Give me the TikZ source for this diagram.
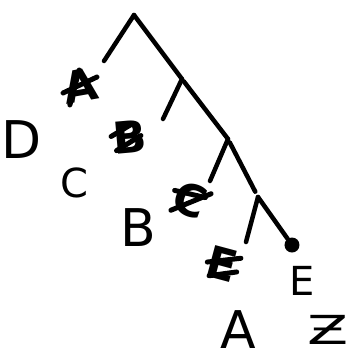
\documentclass[tikz,border=0pt]{standalone}
\usepackage{fontspec}
\setmainfont{DejaVu Sans}
\usetikzlibrary{calc}

\begin{document}
\begin{tikzpicture}[
  x=1pt, y=-1pt,
  branch/.style={line width=4.5pt, line cap=round},
  biglbl/.style={inner sep=0pt, font=\fontsize{52}{52}\selectfont},
  midlbl/.style={inner sep=0pt, font=\fontsize{40}{40}\selectfont},
  struck/.style={inner sep=0pt, font=\fontsize{44}{44}\selectfont\bfseries},
  scribble/.style={line width=5pt, line cap=round},
]
\useasboundingbox (0,0) rectangle (359,360);

% tree
\coordinate (r0) at (134,15);
\coordinate (r1) at (182,79);
\coordinate (r2) at (228,139);
\coordinate (r3) at (258,197);
\coordinate (l0) at (104,61);
\coordinate (l1) at (163,119);
\coordinate (l2) at (210,181);
\coordinate (l3) at (246,242);
\node[circle, fill, minimum size=15pt, inner sep=0pt] (tip) at (292,245) {};

\draw[branch] (r0) -- (l0);
\draw[branch] (r0) -- (r1);
\draw[branch] (r1) -- (l1);
\draw[branch, shorten <=3pt] (r1) -- (r2);
\draw[branch] (r2) -- (l2);
\draw[branch, shorten <=4pt, shorten >=6pt] (r2) -- (r3);
\draw[branch] (r3) -- (l3);
\draw[branch] (r3) -- (tip);

% crossed out labels
\node[struck, rotate=10] (xa) at (80,86) {A};
\node[struck, rotate=5] (xb) at (130,137) {B};
\node[struck, rotate=-20] (xc) at (190,200) {C};
\node[struck, rotate=-15] (xe) at (222,264) {E};

\draw[scribble] ($(xa.west)+(0,4)$) -- ($(xa.east)+(0,-6)$);
\draw[scribble] ($(xa.south west)+(4,0)$) -- ($(xa.north)+(2,0)$);
\draw[scribble] ($(xb.west)+(-2,-2)$) -- ($(xb.north)+(2,4)$);
\draw[scribble] ($(xb.south west)+(2,-4)$) -- ($(xb.east)+(-6,0)$);
\draw[scribble] ($(xc.south west)+(2,0)$) -- ($(xc.north east)+(0,4)$);
\draw[scribble] ($(xc.west)+(0,-4)$) -- ($(xc.east)+(0,-8)$);
\draw[scribble] ($(xe.west)+(0,2)$) -- ($(xe.north east)+(0,6)$);
\draw[scribble] ($(xe.south west)+(6,0)$) -- ($(xe.east)+(0,4)$);

% new labels
\node[biglbl] (d) at (22,140) {D};
\node[midlbl] (c) at (74,183) {C};
\node[biglbl] (b) at (138,228) {B};
\node[biglbl] (a) at (238,330) {A};
\node[midlbl] (e) at (302,281) {E};
\node[midlbl, xscale=1.5] (z) at (328,330) {Ƶ};
\end{tikzpicture}
\end{document}
